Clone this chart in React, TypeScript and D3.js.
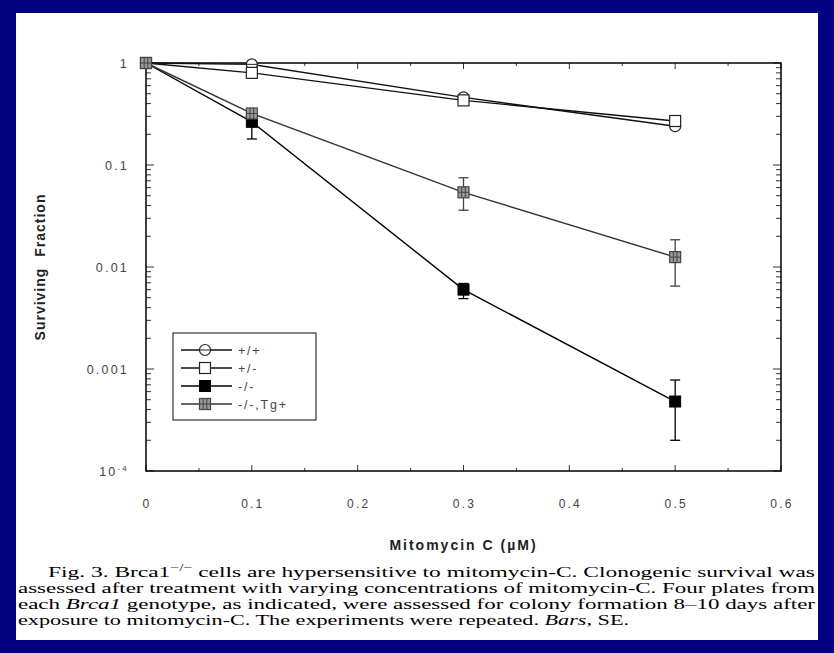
import React from 'react';
import * as d3 from 'd3';

// mitomycin C dose (uM)
const doses = [0, 0.1, 0.3, 0.5];

// surviving fraction per genotype
const wildType = [1, 0.97, 0.46, 0.24];
const hetero = [1, 0.8, 0.43, 0.27];
const knockout = [1, 0.265, 0.006, 0.00048];
const knockoutLo = [1, 0.18, 0.0049, 0.0002];
const knockoutHi = [1, 0.3, 0.0069, 0.00078];
const rescue = [1, 0.32, 0.054, 0.0125];
const rescueLo = [1, 0.3, 0.036, 0.0065];
const rescueHi = [1, 0.34, 0.075, 0.0185];

const legendLabels = ['+/+', '+/-', '-/-', '-/-,Tg+'];
const xTickLabels = ['0', '0.1', '0.2', '0.3', '0.4', '0.5', '0.6'];
const yTickValues = [1, 0.1, 0.01, 0.001];

const tickFont = 'Liberation Sans, Arial, sans-serif';
const serif = 'Liberation Serif, Times New Roman, serif';

function Marker({ kind, cx, cy }: { kind: number; cx: number; cy: number }) {
    const s = 5.5;
    if (kind === 0) {
        return (
            <g>
                <circle cx={cx} cy={cy} r={s} fill="white" stroke="#222" strokeWidth={1.2} />
                <line x1={cx - s} x2={cx + s} y1={cy} y2={cy} stroke="#222" strokeWidth={1} />
            </g>
        );
    }
    if (kind === 1) {
        return <rect x={cx - s} y={cy - s} width={2 * s} height={2 * s} fill="white" stroke="#222" strokeWidth={1.2} />;
    }
    if (kind === 2) {
        return <rect x={cx - s} y={cy - s} width={2 * s} height={2 * s} fill="#000" stroke="#000" strokeWidth={1} />;
    }
    return (
        <g>
            <rect x={cx - s} y={cy - s} width={2 * s} height={2 * s} fill="#999" stroke="#444" strokeWidth={1.2} />
            <line x1={cx - 1.8} x2={cx - 1.8} y1={cy - s} y2={cy + s} stroke="#444" strokeWidth={1} />
            <line x1={cx + 1.8} x2={cx + 1.8} y1={cy - s} y2={cy + s} stroke="#444" strokeWidth={1} />
            <line x1={cx - s} x2={cx + s} y1={cy} y2={cy} stroke="#444" strokeWidth={1} />
        </g>
    );
}

export default function App() {
    const width = 834,
        height = 653;

    // plot area
    const x = d3.scaleLinear().domain([0, 0.6]).range([146, 781]);
    const y = d3.scaleLog().domain([1e-4, 1]).range([471, 63]);

    const line = d3.line<number>()
        .x((d, i) => x(doses[i]))
        .y(d => y(d));

    const series = [
        { values: wildType, color: '#111' },
        { values: hetero, color: '#111' },
        { values: knockout, color: '#000' },
        { values: rescue, color: '#333' },
    ];

    const errors = [
        { lo: knockoutLo, hi: knockoutHi, color: '#000' },
        { lo: rescueLo, hi: rescueHi, color: '#444' },
    ];

    const xTicks = d3.range(0, 0.6001, 0.05);
    const yTicks = y.ticks();
    const isMajorY = (v: number) => Math.abs(Math.log10(v) - Math.round(Math.log10(v))) < 1e-6;
    const isMajorX = (i: number) => i % 2 === 0;

    const [x0, x1] = x.range();
    const [y0, y1] = y.range();

    // legend placement
    const lgX = 173, lgY = 333, lgW = 143, lgH = 87, lgStep = 18;

    return (
        <svg width={width} height={height} style={{ position: 'absolute', left: 0, top: 0 }}>
            <rect width={width} height={height} fill="#000080" />
            <rect x={16} y={13} width={802} height={627} fill="white" />

            {/* ticks */}
            {yTicks.map((v, i) => {
                const len = isMajorY(v) ? 8 : 5;
                return (
                    <g key={'yt' + i} stroke="#333" strokeWidth={1}>
                        <line x1={x0} x2={x0 + len} y1={y(v)} y2={y(v)} />
                        <line x1={x1} x2={x1 - len} y1={y(v)} y2={y(v)} />
                    </g>
                );
            })}
            {xTicks.map((v, i) => {
                const len = isMajorX(i) ? 6 : 3;
                return (
                    <g key={'xt' + i} stroke="#333" strokeWidth={1}>
                        <line x1={x(v)} x2={x(v)} y1={y0} y2={y0 - len} />
                        <line x1={x(v)} x2={x(v)} y1={y1} y2={y1 + len} />
                    </g>
                );
            })}

            {/* frame */}
            <rect x={x0} y={y1} width={x1 - x0} height={y0 - y1} fill="none" stroke="#000" strokeWidth={1.5} />

            {/* tick labels */}
            {xTickLabels.map((t, i) => (
                <text key={'xl' + i} x={x(+t) + 1} y={508} textAnchor="middle" fontFamily={tickFont}
                    fontSize={12} fill="#444" letterSpacing={2.2}>{t}</text>
            ))}
            {yTickValues.map((v, i) => (
                <text key={'yl' + i} x={129} y={y(v) + 5} textAnchor="end" fontFamily={tickFont}
                    fontSize={12.5} fill="#444" letterSpacing={2.2}>{String(v)}</text>
            ))}
            <text x={129} y={y(1e-4) + 5} textAnchor="end" fontFamily={tickFont} fontSize={12.5} fill="#444" letterSpacing={2.2}>
                10<tspan dy={-5} fontSize={8}>-4</tspan>
            </text>

            {/* axis titles */}
            <text transform={`translate(45,${(y0 + y1) / 2}) rotate(-90)`} textAnchor="middle" fontFamily={tickFont}
                fontSize={14} fontWeight="bold" fill="#222" letterSpacing={1} wordSpacing={6}>Surviving Fraction</text>
            <text x={(x0 + x1) / 2} y={550} textAnchor="middle" fontFamily={tickFont} fontSize={14}
                fontWeight="bold" fill="#222" letterSpacing={2}>Mitomycin C (µM)</text>

            {/* lines */}
            {series.map((s, i) => (
                <path key={'ln' + i} d={line(s.values) || ''} fill="none" stroke={s.color} strokeWidth={1.4} />
            ))}

            {/* error bars */}
            {errors.map((e, k) => doses.map((d, i) => (
                <g key={'eb' + k + '-' + i} stroke={e.color} strokeWidth={1.3}>
                    <line x1={x(d)} x2={x(d)} y1={y(e.lo[i])} y2={y(e.hi[i])} />
                    <line x1={x(d) - 5} x2={x(d) + 5} y1={y(e.lo[i])} y2={y(e.lo[i])} />
                    <line x1={x(d) - 5} x2={x(d) + 5} y1={y(e.hi[i])} y2={y(e.hi[i])} />
                </g>
            )))}

            {/* markers */}
            {series.map((s, k) => s.values.map((v, i) => (
                <Marker key={'mk' + k + '-' + i} kind={k} cx={x(doses[i])} cy={y(v)} />
            )))}

            {/* legend */}
            <rect x={lgX} y={lgY} width={lgW} height={lgH} fill="white" stroke="#333" strokeWidth={1.2} />
            {legendLabels.map((t, i) => {
                const ly = lgY + 17 + i * lgStep;
                return (
                    <g key={'lg' + i}>
                        <line x1={181} x2={232} y1={ly} y2={ly} stroke={series[i].color} strokeWidth={1.4} />
                        <Marker kind={i} cx={205} cy={ly} />
                        <text x={238} y={ly + 5} fontFamily={tickFont} fontSize={12.5} fill="#444"
                            letterSpacing={1.8}>{t}</text>
                    </g>
                );
            })}

            {/* caption */}
            <g fontFamily={serif} fontSize={15} fill="#000">
                <text x={48} y={577} textLength={767} lengthAdjust="spacingAndGlyphs">
                    Fig. 3. Brca1<tspan dy={-6} fontSize={10}>−/−</tspan><tspan dy={6}> cells are hypersensitive to mitomycin-C. Clonogenic survival was</tspan>
                </text>
                <text x={18} y={593} textLength={797} lengthAdjust="spacingAndGlyphs">
                    assessed after treatment with varying concentrations of mitomycin-C. Four plates from
                </text>
                <text x={18} y={609} textLength={797} lengthAdjust="spacingAndGlyphs">
                    each <tspan fontStyle="italic">Brca1</tspan> genotype, as indicated, were assessed for colony formation 8–10 days after
                </text>
                <text x={18} y={625} textLength={611} lengthAdjust="spacingAndGlyphs">
                    exposure to mitomycin-C. The experiments were repeated. <tspan fontStyle="italic">Bars</tspan>, SE.
                </text>
            </g>
        </svg>
    );
}
